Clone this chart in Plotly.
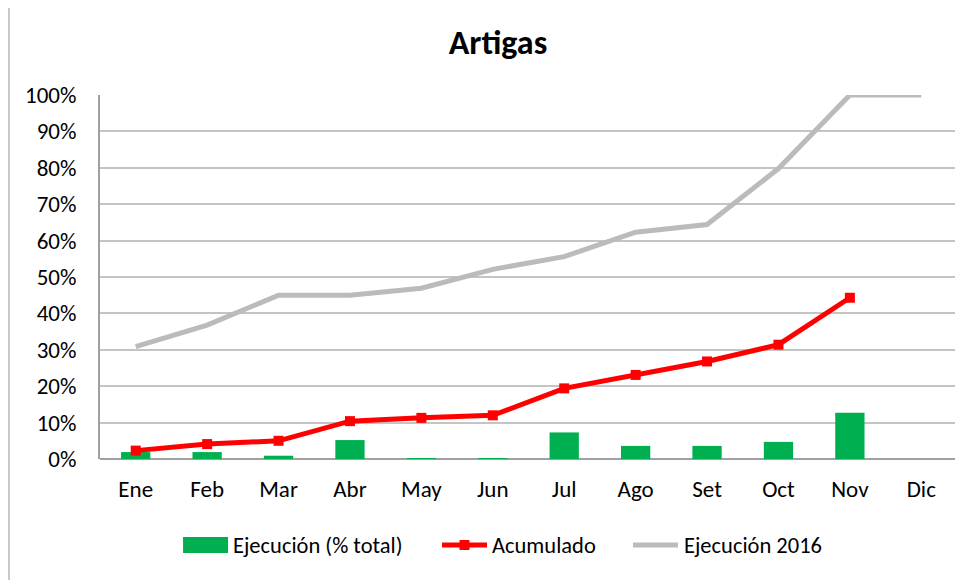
import plotly.graph_objects as go

months = ["Ene", "Feb", "Mar", "Abr", "May", "Jun", "Jul", "Ago", "Set", "Oct", "Nov", "Dic"]
ejecucion = [0.019, 0.019, 0.009, 0.052, 0.002, 0.002, 0.073, 0.036, 0.036, 0.047, 0.127, None]
acumulado = [0.023, 0.041, 0.050, 0.104, 0.113, 0.120, 0.194, 0.231, 0.268, 0.314, 0.443, None]
ejec2016 = [0.309, 0.368, 0.450, 0.450, 0.469, 0.521, 0.556, 0.623, 0.644, 0.798, 1.0, 1.0]
yticks = [i / 10 for i in range(11)]
yticklabels = [f"{i*10}%" for i in range(11)]
legend_names = ["Ejecución (% total)", "Acumulado", "Ejecución 2016"]

GREEN = "#00B050"
RED = "#FF0000"
GRAY = "#BBBBBB"
FONT = "Carlito, 'Liberation Sans Narrow', 'Open Sans', sans-serif"

fig = go.Figure()
fig.add_trace(go.Bar(x=months, y=ejecucion, name=legend_names[0],
                     marker=dict(color=GREEN, line=dict(width=0))))
fig.add_trace(go.Scatter(x=months, y=acumulado, name=legend_names[1], mode="lines+markers",
                         line=dict(color=RED, width=5),
                         marker=dict(symbol="square", size=10, color=RED)))
fig.add_trace(go.Scatter(x=months, y=ejec2016, name=legend_names[2], mode="lines",
                         line=dict(color=GRAY, width=5)))

fig.update_layout(
    width=955, height=572,
    paper_bgcolor="white", plot_bgcolor="white",
    margin=dict(l=92, r=6, t=87, b=121),
    font=dict(family=FONT, size=23, color="#000000"),
    title=dict(text="<b>Artigas</b>", xref="paper", x=0.4644, xanchor="center",
               y=0.94, yanchor="middle",
               font=dict(family=FONT, size=34, color="#000000")),
    bargap=0.59,
    showlegend=False,
    xaxis=dict(range=[-0.5, 11.5], showgrid=False, showline=False, ticks="",
               tickfont=dict(size=23), ticklabelstandoff=14),
    yaxis=dict(range=[0, 1], tickvals=yticks, ticktext=yticklabels, showgrid=True,
               gridcolor="#C4C4C4", gridwidth=2, showline=True, linecolor="#A0A0A0",
               linewidth=2, zeroline=True, zerolinecolor="#A0A0A0", zerolinewidth=2,
               ticks="", tickfont=dict(size=23), ticklabelstandoff=17),
)

# chart frame edge on the left
fig.add_shape(type="line", xref="paper", yref="paper", x0=-0.1062, x1=-0.1062, y0=-0.35, y1=1.3,
              line=dict(color="#C8C8C8", width=2))

# custom legend
ly = -0.2363
fig.add_shape(type="rect", xref="paper", yref="paper", x0=0.0969, x1=0.1494, y0=-0.2582, y1=-0.2143,
              fillcolor=GREEN, line=dict(width=0))
fig.add_shape(type="line", xref="paper", yref="paper", x0=0.3991, x1=0.4516, y0=ly, y1=ly,
              line=dict(color=RED, width=5))
fig.add_shape(type="rect", xref="paper", yref="paper", x0=0.4253 - 0.0058, x1=0.4253 + 0.0058,
              y0=ly - 0.0137, y1=ly + 0.0137, fillcolor=RED, line=dict(width=0))
fig.add_shape(type="line", xref="paper", yref="paper", x0=0.6219, x1=0.6744, y0=ly, y1=ly,
              line=dict(color=GRAY, width=5))
for xpos, txt in zip([0.1529, 0.4551, 0.6791], legend_names):
    fig.add_annotation(x=xpos, y=ly, xref="paper", yref="paper", text=txt, showarrow=False,
                       xanchor="left", yanchor="middle",
                       font=dict(family=FONT, size=22.5, color="#000000"))

fig.write_html("out.html")
